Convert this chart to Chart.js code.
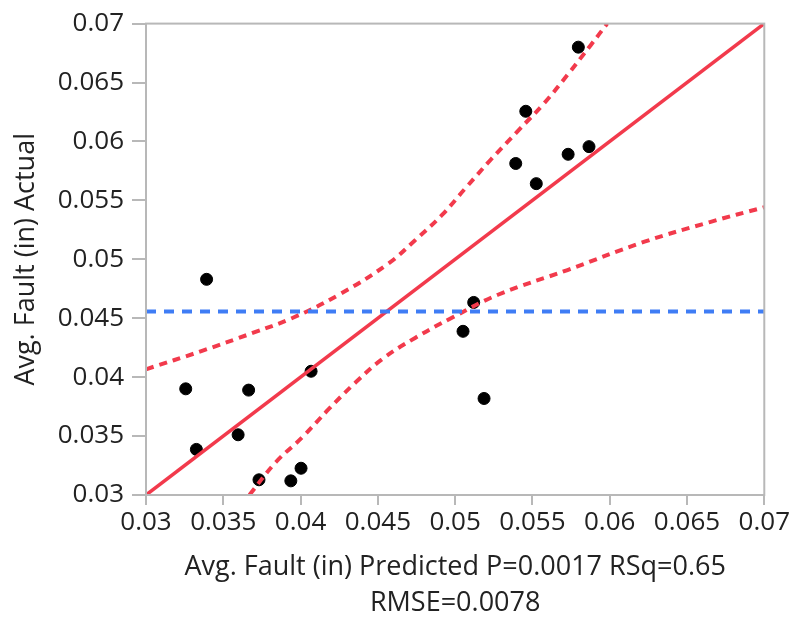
<!DOCTYPE html>
<html>
<head>
<meta charset="utf-8">
<script src="https://cdn.jsdelivr.net/npm/chart.js@4"></script>
<style>
  body { margin: 0; background: #fff; }
  #wrap { width: 792px; height: 617px; }
</style>
</head>
<body>
<div id="wrap"><canvas id="chart"></canvas></div>
<script>
// observed points: predicted (x) vs actual (y)
const predicted = [0.05797, 0.05457, 0.05866, 0.05731, 0.05392, 0.05525, 0.03392, 0.03257, 0.03664,
  0.04068, 0.03596, 0.03326, 0.03731, 0.03937, 0.04003, 0.05051, 0.05120, 0.05187];
const actual = [0.0680, 0.06256, 0.05956, 0.05891, 0.05813, 0.05642, 0.04830, 0.03901, 0.03890,
  0.04050, 0.03511, 0.03387, 0.03129, 0.03120, 0.03227, 0.04389, 0.04634, 0.03819];

// fit line and mean of response
const fitX = [0.03, 0.07];
const fitY = [0.03, 0.07];
const meanActual = 0.04558;

// confidence curves
const upperX = [0.03, 0.03358, 0.03690, 0.03947, 0.04248, 0.04569, 0.04741, 0.04912, 0.05062,
  0.05233, 0.05405, 0.05577, 0.05727, 0.05877, 0.05984];
const upperY = [0.04067, 0.04221, 0.04375, 0.04502, 0.04699, 0.04965, 0.05162, 0.05372, 0.05596,
  0.05849, 0.06088, 0.06326, 0.06565, 0.06817, 0.07];
const lowerX = [0.03669, 0.03841, 0.04012, 0.04183, 0.04355, 0.04526, 0.04741, 0.04976, 0.05277,
  0.05727, 0.06220, 0.06648, 0.07];
const lowerY = [0.03, 0.03280, 0.03491, 0.03730, 0.03954, 0.04151, 0.04333, 0.04502, 0.04699,
  0.04909, 0.05147, 0.05316, 0.05442];

const axisTicks = [0.03, 0.035, 0.04, 0.045, 0.05, 0.055, 0.06, 0.065, 0.07];
const xTitle = ["Avg. Fault (in) Predicted P=0.0017 RSq=0.65", "RMSE=0.0078"];
const yTitle = "Avg. Fault (in) Actual";

const red = "#f23a4c";
const blue = "#3f7df5";
const frameColor = "#b8b8b8";
const textColor = "#222";
const family = "'Open Sans', 'Noto Sans', sans-serif";

function pairs(xs, ys) {
  return xs.map((x, i) => ({ x: x, y: ys[i] }));
}

const framePlugin = {
  id: "frame",
  afterDatasetsDraw(chart) {
    const a = chart.chartArea;
    const ctx = chart.ctx;
    ctx.save();
    ctx.strokeStyle = frameColor;
    ctx.lineWidth = 2;
    ctx.strokeRect(a.left, a.top, a.right - a.left, a.bottom - a.top);
    ctx.restore();
  }
};

function fmt(v) {
  return String(Number(v.toFixed(3)));
}

new Chart(document.getElementById("chart"), {
  type: "scatter",
  data: {
    datasets: [
      {
        label: "mean",
        type: "line",
        data: [{ x: 0.03, y: meanActual }, { x: 0.07, y: meanActual }],
        borderColor: blue,
        borderWidth: 4,
        borderDash: [10, 8],
        pointRadius: 0,
        fill: false,
        clip: 0
      },
      {
        label: "upper",
        type: "line",
        data: pairs(upperX, upperY),
        borderColor: red,
        borderWidth: 4,
        borderDash: [8, 6],
        pointRadius: 0,
        tension: 0.4,
        fill: false,
        clip: 0
      },
      {
        label: "lower",
        type: "line",
        data: pairs(lowerX, lowerY),
        borderColor: red,
        borderWidth: 4,
        borderDash: [8, 6],
        pointRadius: 0,
        tension: 0.4,
        fill: false,
        clip: 0
      },
      {
        label: "fit",
        type: "line",
        data: pairs(fitX, fitY),
        borderColor: red,
        borderWidth: 3.5,
        pointRadius: 0,
        fill: false,
        clip: 0
      },
      {
        label: "points",
        data: pairs(predicted, actual),
        backgroundColor: "#000",
        borderColor: "#000",
        pointRadius: 6,
        pointHoverRadius: 6
      }
    ]
  },
  options: {
    responsive: true,
    maintainAspectRatio: false,
    animation: false,
    events: [],
    layout: { padding: { top: 19, right: 24, left: 0, bottom: 0 } },
    plugins: {
      legend: { display: false },
      tooltip: { enabled: false }
    },
    scales: {
      x: {
        type: "linear",
        min: 0.03,
        max: 0.07,
        afterBuildTicks: (scale) => { scale.ticks = axisTicks.map(v => ({ value: v })); },
        afterFit: (scale) => { scale.height = 122; },
        ticks: { callback: fmt, color: textColor, font: { family: family, size: 26 }, padding: 2, maxRotation: 0, autoSkip: false },
        grid: { drawOnChartArea: false, drawTicks: true, tickLength: 10, color: frameColor, lineWidth: 2 },
        border: { display: true, color: frameColor, width: 2 },
        title: { display: true, text: xTitle, color: textColor, font: { family: family, size: 27, lineHeight: 1.33 }, padding: { top: 0, bottom: -4 } }
      },
      y: {
        type: "linear",
        min: 0.03,
        max: 0.07,
        afterBuildTicks: (scale) => { scale.ticks = axisTicks.map(v => ({ value: v })); },
        afterFit: (scale) => { scale.width = 146; },
        ticks: { callback: fmt, color: textColor, font: { family: family, size: 26 }, padding: 8, autoSkip: false },
        grid: { drawOnChartArea: false, drawTicks: true, tickLength: 14, color: frameColor, lineWidth: 2 },
        border: { display: true, color: frameColor, width: 2 },
        title: { display: true, text: yTitle, color: textColor, font: { family: family, size: 27 }, padding: { top: 10, bottom: 0 } }
      }
    }
  },
  plugins: [framePlugin]
});
</script>
</body>
</html>
